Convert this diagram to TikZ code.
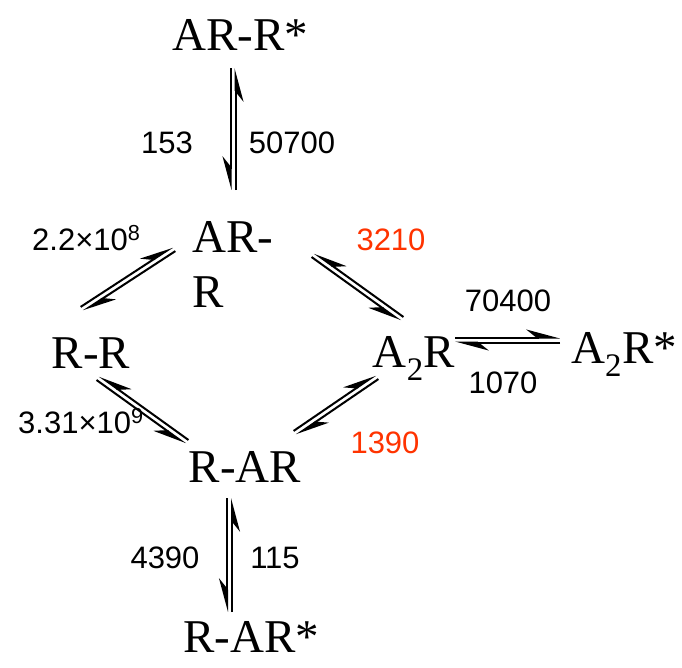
\documentclass[tikz,border=0pt]{standalone}
\usepackage{fontspec}
\setmainfont{Liberation Serif}
\newfontfamily\numfont{Liberation Sans}
\usetikzlibrary{calc,arrows.meta}
\definecolor{rate}{RGB}{255,51,0}
\newcommand\gapd{2.5pt}
\tikzset{
  barbL/.style={-{Stealth[harpoon,length=30pt,width=16pt,inset=10pt]}},
  barbR/.style={-{Stealth[harpoon,swap,length=30pt,width=16pt,inset=10pt]}}}
\newcommand\eqL[2]{%
  \draw[rxn,barbL] ($(#1)!\gapd!90:(#2)$) -- ($(#2)!\gapd!-90:(#1)$);
  \draw[rxn,barbL] ($(#2)!\gapd!90:(#1)$) -- ($(#1)!\gapd!-90:(#2)$);}
\newcommand\eqR[2]{%
  \draw[rxn,barbR] ($(#1)!\gapd!-90:(#2)$) -- ($(#2)!\gapd!90:(#1)$);
  \draw[rxn,barbR] ($(#2)!\gapd!-90:(#1)$) -- ($(#1)!\gapd!90:(#2)$);}
\begin{document}
\begin{tikzpicture}[x=1pt,y=1pt,
  species/.style={inner sep=0pt,anchor=base,font=\fontsize{47}{55}\selectfont},
  k/.style={inner sep=0pt,anchor=base,font=\numfont\fontsize{31}{36}\selectfont},
  kred/.style={k,text=rate},
  rxn/.style={line width=2pt}]
\useasboundingbox (0,0) rectangle (682,-667);
% species
\node[species] (arrs) at (240,-50) {AR-R*};
\node[species,anchor=base west,align=left] (arr) at (192,-307) {AR-\\R};
\node[species] (rr) at (91,-368) {R-R};
\node[species] (a2r) at (414,-367) {A\textsubscript{2}R};
\node[species] (a2rs) at (624,-363) {A\textsubscript{2}R*};
\node[species] (rar) at (245,-482) {R-AR};
\node[species] (rars) at (251,-652) {R-AR*};
% rate constants
\node[k] (k1) at (167,-153) {153};
\node[k] (k2) at (292,-153) {50700};
\node[k,anchor=base west] (k3) at (32,-250) {2.2×10\textsuperscript{8}};
\node[kred] (k4) at (391,-250) {3210};
\node[k] (k5) at (508,-311) {70400};
\node[k] (k6) at (503,-393) {1070};
\node[k,anchor=base west] (k7) at (18,-433) {3.31×10\textsuperscript{9}};
\node[kred] (k8) at (385,-453) {1390};
\node[k] (k9) at (165,-568) {4390};
\node[k] (k10) at (275,-568) {115};
% arrow ends
\coordinate (t1) at (233,-68);   \coordinate (t2) at (233,-190);
\coordinate (ul1) at (82,-309);  \coordinate (ul2) at (174,-249);
\coordinate (ur1) at (313,-255); \coordinate (ur2) at (402,-319);
\coordinate (h1) at (455,-340);  \coordinate (h2) at (560,-340);
\coordinate (ll1) at (98,-378);  \coordinate (ll2) at (187,-442);
\coordinate (lr1) at (295,-433); \coordinate (lr2) at (377,-377);
\coordinate (b1) at (229.5,-498); \coordinate (b2) at (229.5,-612);
\eqR{t1}{t2}
\eqL{ul1}{ul2}
\eqR{ur1}{ur2}
\eqL{h1}{h2}
\eqR{ll1}{ll2}
\eqL{lr1}{lr2}
\eqR{b1}{b2}
\end{tikzpicture}
\end{document}
